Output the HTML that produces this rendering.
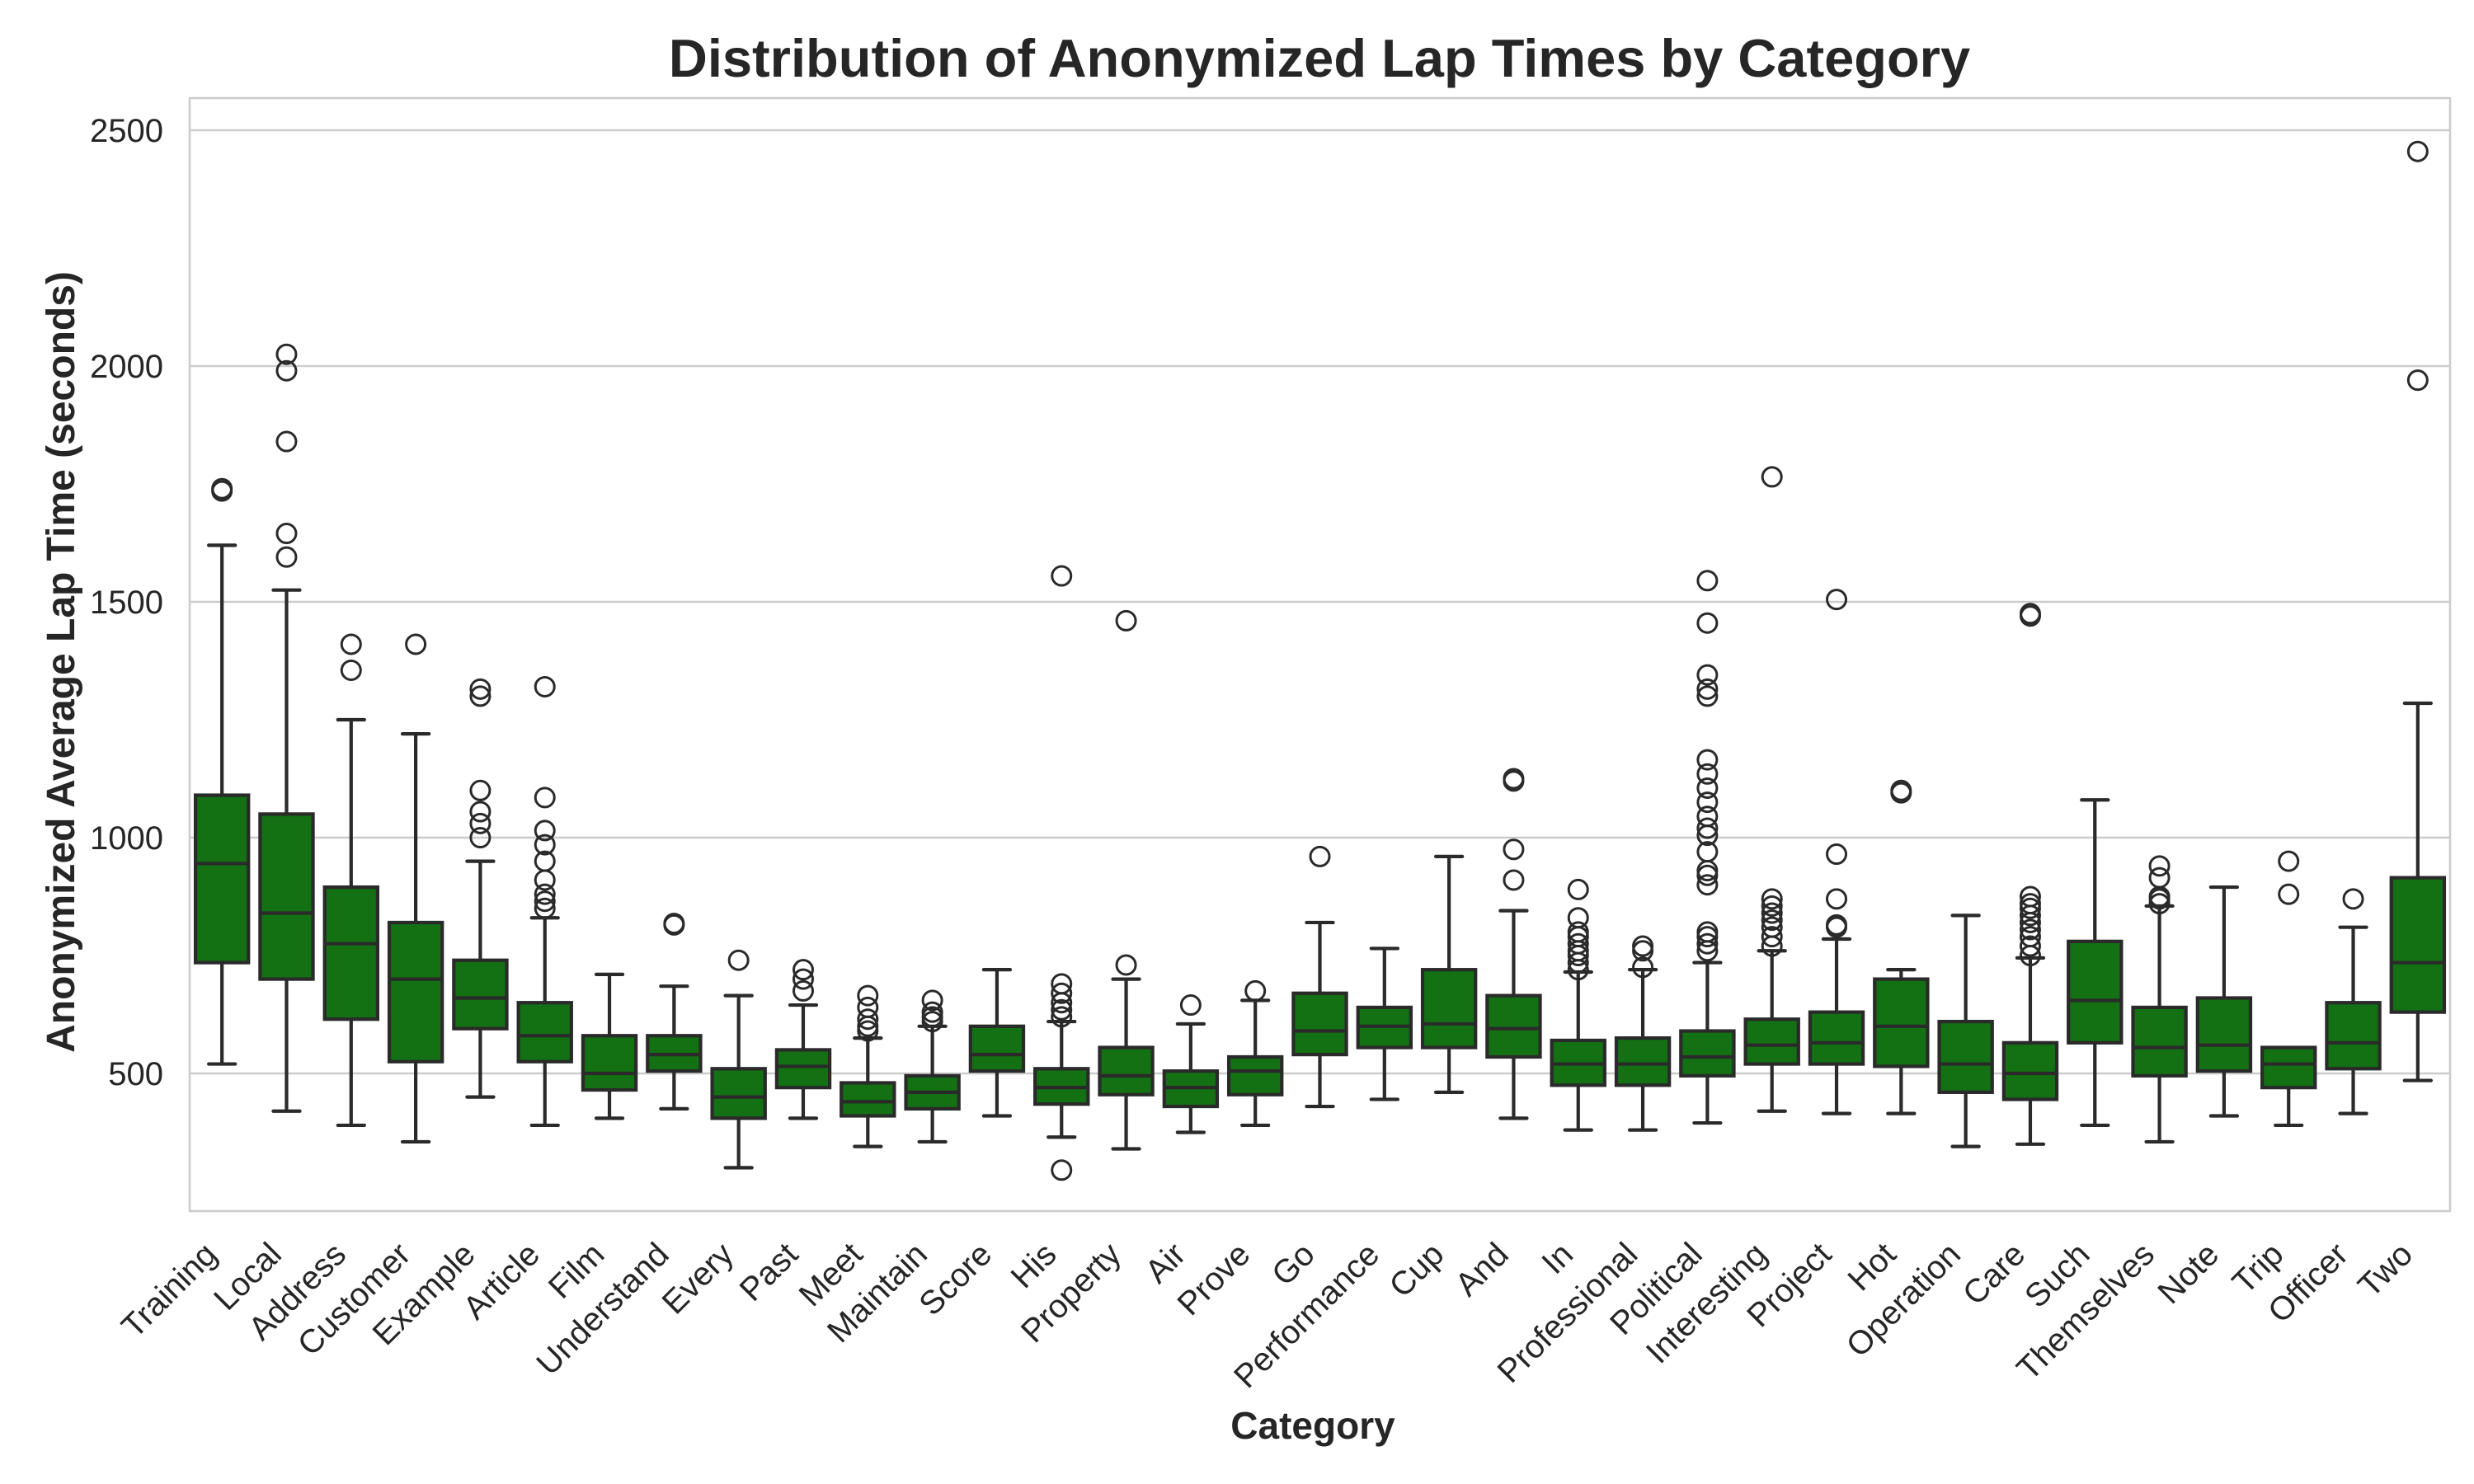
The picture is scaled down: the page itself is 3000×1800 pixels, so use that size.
<!DOCTYPE html>
<html><head><meta charset="utf-8"><style>
html,body{margin:0;padding:0;background:#fff;}
svg{display:block;font-family:"Liberation Sans","DejaVu Sans",sans-serif;}
</style></head><body>
<svg id="chart" width="3000" height="1800" viewBox="0 0 3000 1800">
<rect x="0" y="0" width="3000" height="1800" fill="#fff"/>
<g id="grid"></g>
<g id="boxes"></g>
<rect x="230" y="119" width="2741" height="1350" fill="none" stroke="#cccccc" stroke-width="2.5"/>
<g id="yticks"></g>
<g id="xticks"></g>
<text x="1600" y="93" text-anchor="middle" font-size="65" font-weight="bold" fill="#262626">Distribution of Anonymized Lap Times by Category</text>
<text transform="translate(90,803) rotate(-90)" text-anchor="middle" font-size="48" font-weight="bold" fill="#262626">Anonymized Average Lap Time (seconds)</text>
<text x="1592" y="1745" text-anchor="middle" font-size="46" font-weight="bold" fill="#262626">Category</text>
</svg>
<script>
const categories=["Training","Local","Address","Customer","Example","Article","Film","Understand","Every","Past","Meet","Maintain","Score","His","Property","Air","Prove","Go","Performance","Cup","And","In","Professional","Political","Interesting","Project","Hot","Operation","Care","Such","Themselves","Note","Trip","Officer","Two"];
const whiskerLow=[520,420,390,355,450,390,405,425,300,405,345,355,410,365,340,375,390,430,445,460,405,380,380,395,420,415,415,345,350,390,355,410,390,415,485];
const q1=[735,700,615,525,595,525,465,505,405,470,410,425,505,435,455,430,455,540,555,555,535,475,475,495,520,520,515,460,445,565,495,505,470,510,630];
const median=[945,840,775,700,660,580,500,540,450,515,440,460,540,470,495,470,505,590,600,605,595,520,520,535,560,565,600,520,500,655,555,560,520,565,735];
const q3=[1090,1050,895,820,740,650,580,580,510,550,480,495,600,510,555,505,535,670,640,720,665,570,575,590,615,630,700,610,565,780,640,660,555,650,915];
const whiskerHigh=[1620,1525,1250,1220,950,830,710,685,665,645,575,600,720,610,700,605,655,820,765,960,845,715,720,735,760,785,720,835,745,1080,855,895,555,810,1285];
const outliers=[[1735,1740],[1595,1645,1840,1990,2025],[1355,1410],[1410],[1000,1030,1055,1100,1300,1315],[850,865,880,910,950,985,1015,1085,1320],[],[815,818],[740],[675,700,720],[590,600,615,640,665],[610,620,630,655],[],[295,620,635,650,670,690,1555],[730,1460],[645],[675],[960],[],[],[910,975,1120,1125],[720,735,750,760,775,790,800,830,890],[725,760,770],[760,775,790,800,900,920,930,970,1005,1020,1045,1075,1105,1135,1165,1300,1315,1345,1455,1545],[770,790,810,825,840,855,870,1765],[810,815,870,965,1505],[1095,1100],[],[750,770,790,805,820,835,850,860,875,1470,1475],[],[860,870,875,915,940],[],[880,950],[870],[1970,2455]];
const yTicks=[500,1000,1500,2000,2500];

const NS="http://www.w3.org/2000/svg";
const L=230,R=2971,T=119,B=1469;
function y(v){return 1302-(v-500)*0.572;}
const step=(R-L)/categories.length;
function x(i){return L+step*(i+0.5);}
function mk(tag,attrs,parent){const e=document.createElementNS(NS,tag);for(const k in attrs)e.setAttribute(k,attrs[k]);parent.appendChild(e);return e;}
const grid=document.getElementById('grid'),yt=document.getElementById('yticks'),xt=document.getElementById('xticks'),bx=document.getElementById('boxes');
yTicks.forEach(t=>{
  const l=mk('line',{x1:L,x2:R,y1:y(t),y2:y(t),stroke:'#cccccc','stroke-width':2.5},grid);
  
  
  const tx=mk('text',{x:198,y:y(t)+14,'text-anchor':'end','font-size':40,fill:'#262626'},yt);
  tx.textContent=t;
  
  
});
const bw=step*0.82,ec='#2a2a2a',lw=4.2;
categories.forEach((c,i)=>{
  const cx=x(i);
  const g=mk('g',{},bx);
  
  
  mk('line',{x1:cx,x2:cx,y1:y(whiskerLow[i]),y2:y(q1[i]),stroke:ec,'stroke-width':lw},g);
  mk('line',{x1:cx,x2:cx,y1:y(q3[i]),y2:y(whiskerHigh[i]),stroke:ec,'stroke-width':lw},g);
  mk('line',{x1:cx-bw/4,x2:cx+bw/4,y1:y(whiskerLow[i]),y2:y(whiskerLow[i]),stroke:ec,'stroke-width':lw,'stroke-linecap':'round'},g);
  mk('line',{x1:cx-bw/4,x2:cx+bw/4,y1:y(whiskerHigh[i]),y2:y(whiskerHigh[i]),stroke:ec,'stroke-width':lw,'stroke-linecap':'round'},g);
  mk('rect',{x:cx-bw/2,y:y(q3[i]),width:bw,height:y(q1[i])-y(q3[i]),fill:'#137013',stroke:ec,'stroke-width':lw},g);
  mk('line',{x1:cx-bw/2,x2:cx+bw/2,y1:y(median[i]),y2:y(median[i]),stroke:ec,'stroke-width':lw},g);
  outliers[i].forEach(v=>{
    const o=mk('circle',{cx:cx,cy:y(v),r:11.5,fill:'none',stroke:ec,'stroke-width':3},g);
    
    
  });
  const t=mk('text',{transform:`translate(${cx-4},${B+55}) rotate(-45)`,'text-anchor':'end','font-size':40,fill:'#262626'},xt);
  t.textContent=c;
  
  
});
</script>
</body></html>
